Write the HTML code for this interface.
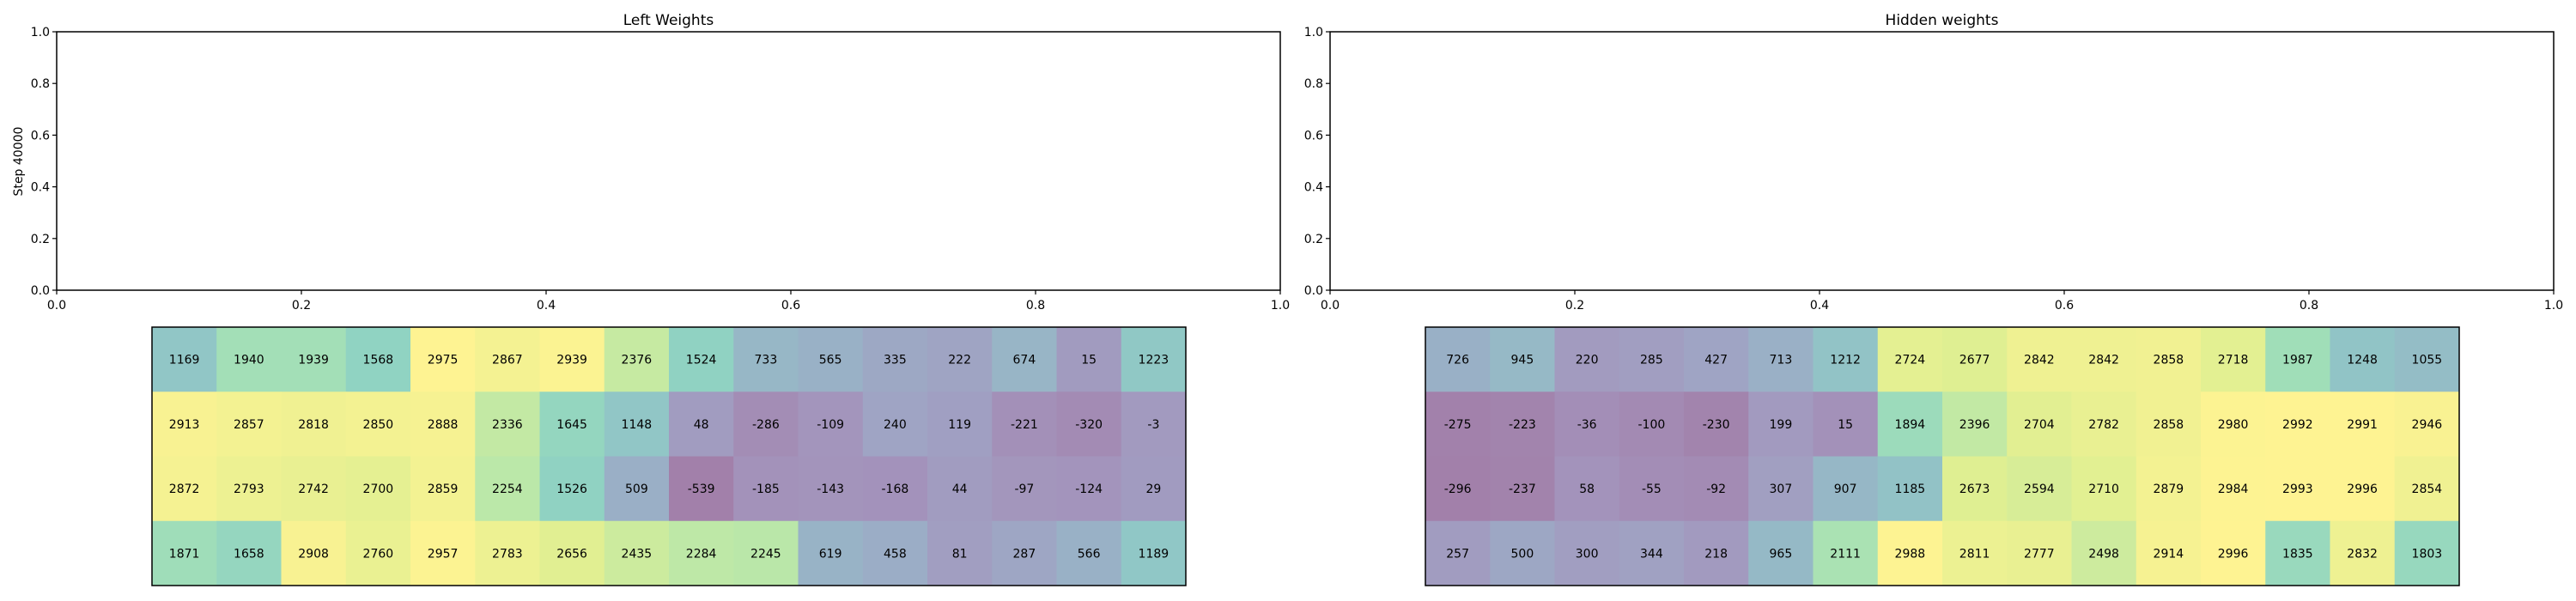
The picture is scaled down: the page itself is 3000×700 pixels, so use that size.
<!DOCTYPE html>
<html><head><meta charset="utf-8"><style>
body{margin:0;background:#fff;}
svg{display:block;font-family:"DejaVu Sans","Liberation Sans",sans-serif;}
</style></head><body>
<svg id="fig" width="3000" height="700" viewBox="0 0 3000 700"></svg>
<script>
const xTicks=[0.0,0.2,0.4,0.6,0.8,1.0];
const yTicks=[0.0,0.2,0.4,0.6,0.8,1.0];
const titles=["Left Weights","Hidden weights"];
const ylabelText="Step 40000";
const leftRow1=[1169,1940,1939,1568,2975,2867,2939,2376,1524,733,565,335,222,674,15,1223];
const leftRow2=[2913,2857,2818,2850,2888,2336,1645,1148,48,-286,-109,240,119,-221,-320,-3];
const leftRow3=[2872,2793,2742,2700,2859,2254,1526,509,-539,-185,-143,-168,44,-97,-124,29];
const leftRow4=[1871,1658,2908,2760,2957,2783,2656,2435,2284,2245,619,458,81,287,566,1189];
const hidRow1=[726,945,220,285,427,713,1212,2724,2677,2842,2842,2858,2718,1987,1248,1055];
const hidRow2=[-275,-223,-36,-100,-230,199,15,1894,2396,2704,2782,2858,2980,2992,2991,2946];
const hidRow3=[-296,-237,58,-55,-92,307,907,1185,2673,2594,2710,2879,2984,2993,2996,2854];
const hidRow4=[257,500,300,344,218,965,2111,2988,2811,2777,2498,2914,2996,1835,2832,1803];

const NS="http://www.w3.org/2000/svg";
const svg=document.getElementById('fig');
function mk(tag,attrs,parent){const e=document.createElementNS(NS,tag);for(const k in attrs)e.setAttribute(k,attrs[k]);(parent||svg).appendChild(e);return e;}
const VIR=[[68,1,84],[72,36,117],[65,68,135],[53,95,141],[42,120,142],[33,145,140],[34,168,132],[68,191,112],[122,209,81],[189,223,38],[253,231,37]];
function viridis(t){t=Math.max(0,Math.min(1,t));const p=t*(VIR.length-1);const i=Math.min(Math.floor(p),VIR.length-2);const f=p-i;
 const c=VIR[i].map((v,k)=>v+(VIR[i+1][k]-v)*f);return 'rgb('+c.map(v=>Math.round((v+255)/2)).join(',')+')';}

const axes=[{x0:66,x1:1491},{x0:1549,x1:2974}];
const Y0=338,Y1=37;
axes.forEach((a,ai)=>{
 const g=mk('g',{});
 
 
 const sx=v=>a.x0+v*(a.x1-a.x0), sy=v=>Y0+v*(Y1-Y0);
 mk('rect',{x:a.x0,y:Y1,width:a.x1-a.x0,height:Y0-Y1,fill:'none',stroke:'#000','stroke-width':1.5},g);
 xTicks.forEach(v=>{mk('line',{x1:sx(v),x2:sx(v),y1:Y0,y2:Y0+5,stroke:'#000','stroke-width':1.2},g);
  const t=mk('text',{x:sx(v),y:Y0+22,'text-anchor':'middle','font-size':14,fill:'#000'},g);t.textContent=v.toFixed(1);
  });
 yTicks.forEach(v=>{mk('line',{x1:a.x0-5,x2:a.x0,y1:sy(v),y2:sy(v),stroke:'#000','stroke-width':1.2},g);
  const t=mk('text',{x:a.x0-8,y:sy(v)+5,'text-anchor':'end','font-size':14,fill:'#000'},g);t.textContent=v.toFixed(1);
  });
 const tt=mk('text',{x:(a.x0+a.x1)/2,y:29,'text-anchor':'middle','font-size':17,fill:'#000'},g);tt.textContent=titles[ai];
 
});
const yl=mk('text',{x:0,y:0,transform:'translate(26,188) rotate(-90)','text-anchor':'middle','font-size':14,fill:'#000'});
yl.textContent=ylabelText;



const tables=[{x:177,rows:[leftRow1,leftRow2,leftRow3,leftRow4],name:'left-weights-table'},
 {x:1660,rows:[hidRow1,hidRow2,hidRow3,hidRow4],name:'hidden-weights-table'}];
const TY=381,TW=1204,TH=301;
tables.forEach(tb=>{
 const g=mk('g',{});
 
 
 const all=tb.rows.flat();const mn=Math.min(...all),mx=Math.max(...all);
 const cw=TW/16,rh=TH/4;
 tb.rows.forEach((row,r)=>row.forEach((v,c)=>{
  const cell=mk('rect',{x:tb.x+c*cw,y:TY+r*rh,width:cw+0.5,height:rh+0.5,fill:viridis((v-mn)/(mx-mn))},g);
  
  
  const t=mk('text',{x:tb.x+c*cw+cw/2,y:TY+r*rh+rh/2+5,'text-anchor':'middle','font-size':14,fill:'#000'},g);
  t.textContent=v;
  
  
 }));
 mk('rect',{x:tb.x,y:TY,width:TW,height:TH,fill:'none',stroke:'#000','stroke-width':1.5},g);
});
</script>
</body></html>
